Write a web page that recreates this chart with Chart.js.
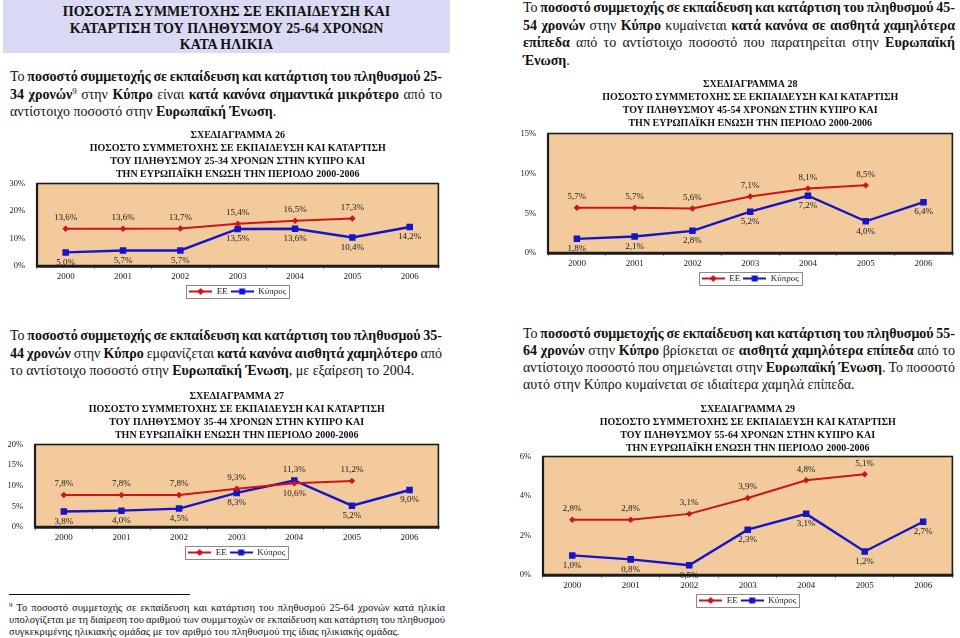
<!DOCTYPE html>
<html lang="el">
<head>
<meta charset="utf-8">
<title>Ποσοστά συμμετοχής σε εκπαίδευση και κατάρτιση</title>
<script src="https://cdn.jsdelivr.net/npm/chart.js@4.4.1/dist/chart.umd.min.js"></script>
<style>
  html, body { margin: 0; padding: 0; background: #fff; }
  body {
    width: 960px; height: 638px; position: relative; overflow: hidden;
    font-family: "Liberation Serif", "Times New Roman", serif; color: #111;
  }
  .header {
    position: absolute; left: 3px; top: 0; width: 447px; height: 53px;
    background: #DADAF4; text-align: center; font-weight: bold;
    font-size: 14px; line-height: 16.5px; padding-top: 4px; box-sizing: border-box;
  }
  .para { position: absolute; width: 432px; font-size: 14px; line-height: 17.5px; }
  .para div { white-space: nowrap; }
  .para .j { text-align: justify; text-align-last: justify; word-spacing: -1.5px; }
  sup { font-size: 9px; vertical-align: 5px; line-height: 0; }
  .rule { position: absolute; left: 9px; top: 594px; width: 181px; height: 1px; background: #111; }
  .foot { position: absolute; left: 9px; top: 602px; width: 436px; font-size: 10.5px; line-height: 12px; }
  .foot div { white-space: nowrap; }
  .foot .j { text-align: justify; text-align-last: justify; word-spacing: -1px; }
  .foot sup { font-size: 7px; vertical-align: 4px; }
  canvas { position: absolute; }
</style>
</head>
<body>

<div class="header">ΠΟΣΟΣΤΑ ΣΥΜΜΕΤΟΧΗΣ ΣΕ ΕΚΠΑΙΔΕΥΣΗ ΚΑΙ<br>ΚΑΤΑΡΤΙΣΗ ΤΟΥ ΠΛΗΘΥΣΜΟΥ 25-64 ΧΡΟΝΩΝ<br>ΚΑΤΑ ΗΛΙΚΙΑ</div>

<div class="para" style="left:10px; top:68px;">
  <div class="j">Το <b>ποσοστό συμμετοχής σε εκπαίδευση και κατάρτιση του πληθυσμού 25-</b></div>
  <div class="j"><b>34 χρονών</b><sup>9</sup> στην <b>Κύπρο</b> είναι <b>κατά κανόνα σημαντικά μικρότερο</b> από το</div>
  <div>αντίστοιχο ποσοστό στην <b>Ευρωπαϊκή Ένωση</b>.</div>
</div>

<div class="para" style="left:523px; top:-1px;">
  <div class="j">Το <b>ποσοστό συμμετοχής σε εκπαίδευση και κατάρτιση του πληθυσμού 45-</b></div>
  <div class="j"><b>54 χρονών</b> στην <b>Κύπρο</b> κυμαίνεται <b>κατά κανόνα σε αισθητά χαμηλότερα</b></div>
  <div class="j"><b>επίπεδα</b> από το αντίστοιχο ποσοστό που παρατηρείται στην <b>Ευρωπαϊκή</b></div>
  <div><b>Ένωση</b>.</div>
</div>

<div class="para" style="left:10px; top:327px;">
  <div class="j">Το <b>ποσοστό συμμετοχής σε εκπαίδευση και κατάρτιση του πληθυσμού 35-</b></div>
  <div class="j"><b>44 χρονών</b> στην <b>Κύπρο</b> εμφανίζεται <b>κατά κανόνα αισθητά χαμηλότερο</b> από</div>
  <div>το αντίστοιχο ποσοστό στην <b>Ευρωπαϊκή Ένωση</b>, με εξαίρεση το 2004.</div>
</div>

<div class="para" style="left:523px; top:325px; line-height:17px;">
  <div class="j">Το <b>ποσοστό συμμετοχής σε εκπαίδευση και κατάρτιση του πληθυσμού 55-</b></div>
  <div class="j"><b>64 χρονών</b> στην <b>Κύπρο</b> βρίσκεται σε <b>αισθητά χαμηλότερα επίπεδα</b> από το</div>
  <div class="j">αντίστοιχο ποσοστό που σημειώνεται στην <b>Ευρωπαϊκή Ένωση</b>. Το ποσοστό</div>
  <div>αυτό στην Κύπρο κυμαίνεται σε ιδιαίτερα χαμηλά επίπεδα.</div>
</div>

<div class="rule"></div>
<div class="foot">
  <div class="j"><sup>9</sup> Το ποσοστό συμμετοχής σε εκπαίδευση και κατάρτιση του πληθυσμού 25-64 χρονών κατά ηλικία</div>
  <div class="j">υπολογίζεται με τη διαίρεση του αριθμού των συμμετοχών σε εκπαίδευση και κατάρτιση του πληθυσμού</div>
  <div>συγκεκριμένης ηλικιακής ομάδας με τον αριθμό του πληθυσμού της ίδιας ηλικιακής ομάδας.</div>
</div>

<canvas id="chart26" width="443" height="177" style="left:0px; top:129px;"></canvas>
<canvas id="chart28" width="446" height="215" style="left:511px; top:78px;"></canvas>
<canvas id="chart27" width="443" height="177" style="left:0px; top:390px;"></canvas>
<canvas id="chart29" width="451" height="212" style="left:506px; top:403px;"></canvas>

<script>
const years = ['2000', '2001', '2002', '2003', '2004', '2005', '2006'];
const seriesNames = ['ΕΕ', 'Κύπρος'];

// 25-34
const eu2534 = [13.6, 13.6, 13.7, 15.4, 16.5, 17.3, null];
const cy2534 = [5.0, 5.7, 5.7, 13.5, 13.6, 10.4, 14.2];
const ticks2534 = [0, 10, 20, 30];

// 35-44
const eu3544 = [7.8, 7.8, 7.8, 9.3, 10.6, 11.2, null];
const cy3544 = [3.8, 4.0, 4.5, 8.3, 11.3, 5.2, 9.0];
const ticks3544 = [0, 5, 10, 15, 20];

// 45-54
const eu4554 = [5.7, 5.7, 5.6, 7.1, 8.1, 8.5, null];
const cy4554 = [1.8, 2.1, 2.8, 5.2, 7.2, 4.0, 6.4];
const ticks4554 = [0, 5, 10, 15];

// 55-64
const eu5564 = [2.8, 2.8, 3.1, 3.9, 4.8, 5.1, null];
const cy5564 = [1.0, 0.8, 0.5, 2.3, 3.1, 1.2, 2.7];
const ticks5564 = [0, 2, 4, 6];

const titleLines = (num, ages) => [
  'ΣΧΕΔΙΑΓΡΑΜΜΑ ' + num,
  'ΠΟΣΟΣΤΟ ΣΥΜΜΕΤΟΧΗΣ ΣΕ ΕΚΠΑΙΔΕΥΣΗ ΚΑΙ ΚΑΤΑΡΤΙΣΗ',
  'ΤΟΥ ΠΛΗΘΥΣΜΟΥ ' + ages + ' ΧΡΟΝΩΝ ΣΤΗΝ ΚΥΠΡΟ ΚΑΙ',
  'ΤΗΝ ΕΥΡΩΠΑΪΚΗ ΕΝΩΣΗ ΤΗΝ ΠΕΡΙΟΔΟ 2000-2006'
];

const EU_COLOR = '#CC1518';
const CY_COLOR = '#1414C8';
const SERIF = '"Liberation Serif", "Times New Roman", serif';

Chart.defaults.font.family = SERIF;
Chart.defaults.color = '#1a1a1a';

const fmt = (v) => v.toFixed(1).replace('.', ',') + '%';

// small line + marker pictures for the legend, like the office chart legend
function legendIcon(color, shape) {
  const c = document.createElement('canvas');
  c.width = 23; c.height = 9;
  const g = c.getContext('2d');
  g.strokeStyle = color;
  g.fillStyle = color;
  g.lineWidth = 2;
  g.beginPath(); g.moveTo(0, 4.5); g.lineTo(23, 4.5); g.stroke();
  g.beginPath();
  if (shape === 'diamond') {
    g.moveTo(11.5, 1); g.lineTo(15, 4.5); g.lineTo(11.5, 8); g.lineTo(8, 4.5);
  } else {
    g.rect(8.5, 1.5, 6, 6);
  }
  g.fill();
  return c;
}
const legendIcons = [legendIcon(EU_COLOR, 'diamond'), legendIcon(CY_COLOR, 'square')];

const plotBox = {
  id: 'plotBox',
  beforeDatasetsDraw(chart) {
    const { ctx, chartArea: a } = chart;
    ctx.save();
    ctx.fillStyle = '#F3CA9B';
    ctx.fillRect(a.left, a.top, a.width, a.height);
    ctx.strokeStyle = '#1c1c1c';
    ctx.lineWidth = 1.6;
    ctx.strokeRect(a.left, a.top, a.width, a.height);
    ctx.lineWidth = 3;
    ctx.beginPath();
    ctx.moveTo(a.left - 1, a.bottom);
    ctx.lineTo(a.right + 1, a.bottom);
    ctx.stroke();
    ctx.lineWidth = 2.2;
    ctx.beginPath();
    ctx.moveTo(a.left, a.top);
    ctx.lineTo(a.left, a.bottom);
    ctx.stroke();
    ctx.restore();
  }
};

const pointLabels = {
  id: 'pointLabels',
  afterDatasetsDraw(chart) {
    const ctx = chart.ctx;
    const sets = chart.data.datasets;
    ctx.save();
    ctx.font = '9px ' + SERIF;
    ctx.fillStyle = '#1a1a1a';
    ctx.textAlign = 'center';
    ctx.textBaseline = 'middle';
    sets.forEach((ds, i) => {
      const meta = chart.getDatasetMeta(i);
      const other = sets[1 - i].data;
      meta.data.forEach((pt, j) => {
        const v = ds.data[j];
        if (v == null) return;
        const o = other[j];
        const above = o == null ? i === 0 : v > o;
        ctx.fillText(fmt(v), pt.x, above ? pt.y - 11 : pt.y + 10);
      });
    });
    ctx.restore();
  }
};

const legendFrame = {
  id: 'legendFrame',
  afterDraw(chart) {
    const boxes = chart.legend && chart.legend.legendHitBoxes;
    if (!boxes || !boxes.length) return;
    const left = Math.min(...boxes.map(b => b.left)) - 3;
    const right = Math.max(...boxes.map(b => b.left + b.width)) + 3;
    const top = boxes[0].top - 2;
    const h = boxes[0].height + 4;
    const ctx = chart.ctx;
    ctx.save();
    ctx.strokeStyle = '#8a8a8a';
    ctx.lineWidth = 1;
    ctx.strokeRect(Math.round(left) + 0.5, Math.round(top) + 0.5, Math.round(right - left), Math.round(h));
    ctx.restore();
  }
};

function makeChart(id, title, euData, cyData, yTicks, yWidth, titleGap) {
  const ctx = document.getElementById(id).getContext('2d');
  return new Chart(ctx, {
    type: 'line',
    data: {
      labels: years,
      datasets: [
        {
          label: seriesNames[0],
          data: euData,
          borderColor: EU_COLOR,
          backgroundColor: EU_COLOR,
          borderWidth: 2,
          pointStyle: 'rectRot',
          pointRadius: 3.2,
          pointBorderWidth: 0,
          tension: 0,
        },
        {
          label: seriesNames[1],
          data: cyData,
          borderColor: CY_COLOR,
          backgroundColor: CY_COLOR,
          borderWidth: 2.4,
          pointStyle: 'rect',
          pointRadius: 4.6,
          pointBorderWidth: 0,
          tension: 0,
        }
      ]
    },
    options: {
      responsive: false,
      animation: false,
      layout: { padding: 0 },
      scales: {
        x: {
          offset: true,
          grid: { display: true, drawOnChartArea: false, drawTicks: true, tickLength: 3, offset: true, color: '#9a9a9a' },
          border: { display: false },
          ticks: { font: { size: 9 }, padding: 2, maxRotation: 0 }
        },
        y: {
          min: yTicks[0],
          max: yTicks[yTicks.length - 1],
          afterBuildTicks: (scale) => { scale.ticks = yTicks.map(v => ({ value: v })); },
          afterFit: (scale) => { scale.width = yWidth; },
          grid: { display: false },
          border: { display: false },
          ticks: { font: { size: 8.5 }, padding: 4, callback: (v) => v + '%' }
        }
      },
      plugins: {
        title: {
          display: true,
          text: title,
          fullSize: false,
          color: '#111',
          font: { size: 10, weight: 'bold', lineHeight: 1.3 },
          padding: { top: 0, bottom: titleGap }
        },
        legend: {
          display: true,
          position: 'bottom',
          fullSize: false,
          labels: {
            usePointStyle: true,
            pointStyleWidth: 23,
            padding: 3,
            font: { size: 9 },
            color: '#1a1a1a',
            generateLabels: (chart) => Chart.defaults.plugins.legend.labels.generateLabels(chart)
              .map((item, i) => Object.assign(item, { pointStyle: legendIcons[i] }))
          }
        },
        tooltip: { enabled: false }
      }
    },
    plugins: [plotBox, pointLabels, legendFrame]
  });
}

makeChart('chart26', titleLines(26, '25-34'), eu2534, cy2534, ticks2534, 37, 2.5);
makeChart('chart28', titleLines(28, '45-54'), eu4554, cy4554, ticks4554, 37, 3.5);
makeChart('chart27', titleLines(27, '35-44'), eu3544, cy3544, ticks3544, 35, 2.5);
makeChart('chart29', titleLines(29, '55-64'), eu5564, cy5564, ticks5564, 37, 1.5);
</script>
</body>
</html>
